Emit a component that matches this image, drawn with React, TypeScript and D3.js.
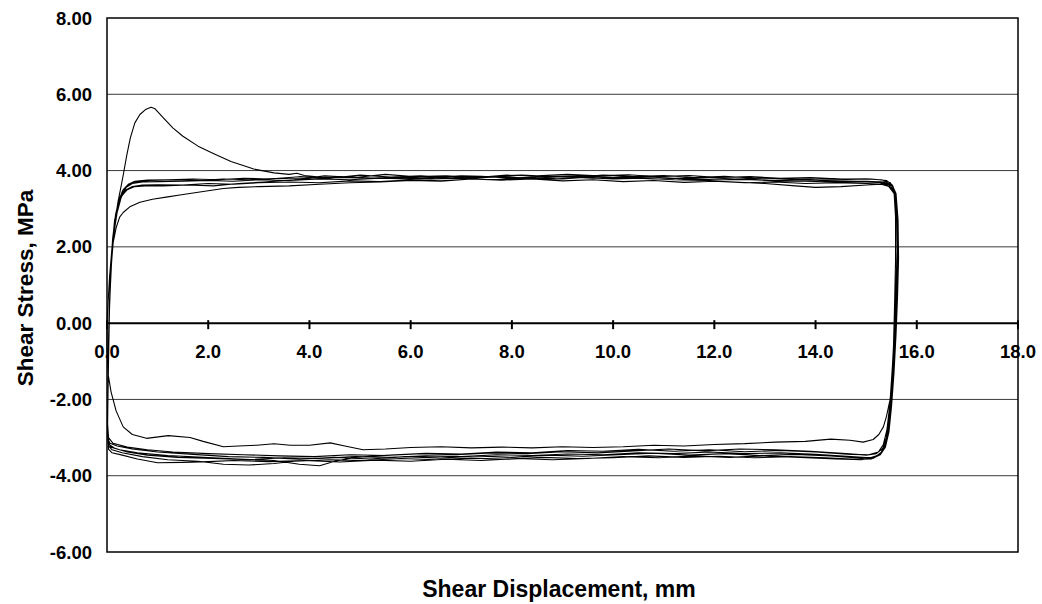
import React from 'react';
import * as d3 from 'd3';

// axis ticks
const xTicks = [0, 2, 4, 6, 8, 10, 12, 14, 16, 18];
const yTicks = [-6, -4, -2, 0, 2, 4, 6, 8];

// cycles of shear displacement (mm) vs shear stress (MPa)
const cycle1: [number, number][] = [
  [0, 0], [0.02, 0.5], [0.05, 1.2], [0.1, 2.0], [0.16, 2.7], [0.22, 3.2], [0.28, 3.6], [0.33, 3.95],
  [0.39, 4.4], [0.46, 4.85], [0.55, 5.25], [0.65, 5.47], [0.76, 5.6], [0.87, 5.66], [0.95, 5.62],
  [1.1, 5.4], [1.3, 5.12], [1.5, 4.9], [1.8, 4.64], [2.1, 4.45], [2.45, 4.24], [2.9, 4.04], [3.3, 3.94],
  [3.6, 3.9], [3.75, 3.93], [3.9, 3.87], [4.3, 3.82], [4.8, 3.84], [5.3, 3.8], [5.8, 3.82], [6.4, 3.78],
  [7.0, 3.8], [7.6, 3.76], [8.2, 3.8], [8.8, 3.78], [9.4, 3.82], [10.0, 3.78], [10.6, 3.8], [11.2, 3.76],
  [11.8, 3.74], [12.4, 3.7], [13.0, 3.66], [13.6, 3.6], [14.0, 3.56], [14.5, 3.58], [15.0, 3.62],
  [15.3, 3.64], [15.45, 3.58], [15.55, 3.4],
  [15.6, 3.0], [15.62, 2.0], [15.6, 1.0], [15.57, 0], [15.54, -1.0], [15.5, -2.0], [15.44, -2.7],
  [15.38, -3.15], [15.3, -3.4], [15.15, -3.52], [14.9, -3.54], [14.3, -3.48], [13.6, -3.44], [12.9, -3.47],
  [12.2, -3.42], [11.5, -3.46], [10.8, -3.41], [10.1, -3.45], [9.4, -3.49], [8.7, -3.46], [8.0, -3.52],
  [7.3, -3.48], [6.6, -3.54], [5.9, -3.5], [5.2, -3.56], [4.5, -3.52], [3.8, -3.57], [3.1, -3.52],
  [2.4, -3.5], [1.7, -3.44], [1.0, -3.38], [0.5, -3.3], [0.2, -3.22], [0.06, -3.15], [0.02, -3.05],
];

const cycle2: [number, number][] = [
  [0.01, -2.6], [0.02, -1.5], [0.03, -0.5], [0.05, 0.6], [0.08, 1.5], [0.12, 2.1], [0.18, 2.5],
  [0.25, 2.78], [0.32, 2.9], [0.45, 3.05], [0.65, 3.17], [0.9, 3.25], [1.2, 3.31], [1.44, 3.36],
  [1.9, 3.45], [2.3, 3.53], [2.6, 3.56], [3.0, 3.58], [3.6, 3.6], [4.2, 3.64], [4.8, 3.68], [5.4, 3.7],
  [6.0, 3.74], [6.6, 3.72], [7.2, 3.78], [7.8, 3.76], [8.4, 3.82], [9.0, 3.78], [9.6, 3.84], [10.2, 3.8],
  [10.8, 3.83], [11.4, 3.78], [12.0, 3.76], [12.6, 3.77], [13.2, 3.73], [13.8, 3.72], [14.4, 3.7],
  [15.0, 3.7], [15.35, 3.68], [15.5, 3.6], [15.58, 3.4],
  [15.62, 2.8], [15.63, 1.8], [15.61, 0.8], [15.58, -0.2], [15.55, -1.2], [15.5, -2.2], [15.45, -2.85],
  [15.38, -3.25], [15.28, -3.45], [15.1, -3.56], [14.8, -3.57], [14.2, -3.53], [13.5, -3.5], [12.8, -3.53],
  [12.1, -3.49], [11.4, -3.52], [10.7, -3.48], [10.0, -3.53], [9.3, -3.55], [8.6, -3.52], [7.9, -3.57],
  [7.2, -3.54], [6.5, -3.58], [5.8, -3.55], [5.1, -3.6], [4.4, -3.58], [3.7, -3.62], [3.3, -3.68],
  [2.8, -3.72], [2.3, -3.7], [1.8, -3.62], [1.2, -3.58], [0.7, -3.5], [0.3, -3.4], [0.1, -3.32], [0.03, -3.22],
];

const cycle3: [number, number][] = [
  [0.01, -2.8], [0.02, -1.6], [0.04, -0.2], [0.06, 1.0], [0.1, 2.0], [0.15, 2.7], [0.22, 3.1],
  [0.3, 3.35], [0.4, 3.5], [0.55, 3.58], [0.75, 3.6], [1.1, 3.6], [1.6, 3.62], [2.1, 3.6], [2.6, 3.66],
  [3.1, 3.7], [3.7, 3.76], [4.3, 3.86], [4.9, 3.82], [5.5, 3.9], [6.1, 3.84], [6.7, 3.86], [7.3, 3.82],
  [7.9, 3.88], [8.5, 3.86], [9.1, 3.9], [9.7, 3.86], [10.3, 3.89], [10.9, 3.84], [11.5, 3.87], [12.1, 3.82],
  [12.7, 3.84], [13.3, 3.8], [13.9, 3.82], [14.5, 3.78], [15.0, 3.78], [15.3, 3.76], [15.48, 3.68], [15.56, 3.45],
  [15.6, 2.9], [15.61, 1.9], [15.59, 0.9], [15.56, -0.1], [15.52, -1.1], [15.47, -2.1], [15.41, -2.8],
  [15.34, -3.18], [15.24, -3.38], [15.05, -3.45], [14.7, -3.44], [14.0, -3.38], [13.3, -3.34], [12.6, -3.37],
  [11.9, -3.32], [11.2, -3.36], [10.5, -3.31], [9.8, -3.36], [9.1, -3.34], [8.4, -3.4], [7.7, -3.38],
  [7.0, -3.43], [6.3, -3.41], [5.6, -3.46], [4.9, -3.52], [4.5, -3.62], [4.2, -3.74], [3.8, -3.7],
  [3.3, -3.6], [2.6, -3.56], [1.9, -3.52], [1.2, -3.47], [0.6, -3.4], [0.25, -3.32], [0.08, -3.25], [0.02, -3.12],
];

const cycle4: [number, number][] = [
  [0.01, -2.5], [0.02, -1.2], [0.04, 0.2], [0.07, 1.3], [0.11, 2.2], [0.17, 2.85], [0.24, 3.25],
  [0.32, 3.5], [0.42, 3.64], [0.55, 3.72], [0.8, 3.75], [1.2, 3.76], [1.7, 3.78], [2.2, 3.76], [2.7, 3.8],
  [3.2, 3.78], [3.8, 3.84], [4.4, 3.8], [5.0, 3.88], [5.6, 3.83], [6.2, 3.86], [6.8, 3.81], [7.4, 3.85],
  [8.0, 3.8], [8.6, 3.85], [9.2, 3.82], [9.8, 3.88], [10.4, 3.84], [11.0, 3.87], [11.6, 3.82], [12.2, 3.85],
  [12.8, 3.8], [13.4, 3.79], [14.0, 3.78], [14.6, 3.77], [15.1, 3.78], [15.4, 3.74], [15.52, 3.62], [15.58, 3.4],
  [15.62, 2.7], [15.62, 1.6], [15.6, 0.6], [15.57, -0.4], [15.53, -1.4], [15.48, -2.3], [15.42, -2.95],
  [15.33, -3.28], [15.2, -3.42], [15.0, -3.46], [14.6, -3.42], [13.9, -3.36], [13.2, -3.32], [12.5, -3.3],
  [11.8, -3.35], [11.1, -3.3], [10.4, -3.35], [9.7, -3.4], [9.0, -3.37], [8.3, -3.42], [7.6, -3.4],
  [6.9, -3.45], [6.2, -3.42], [5.5, -3.47], [4.8, -3.45], [4.1, -3.5], [3.4, -3.48], [2.7, -3.45],
  [2.0, -3.42], [1.3, -3.38], [0.8, -3.32], [0.4, -3.25], [0.12, -3.15], [0.03, -3.0],
];

const cycle5: [number, number][] = [
  [0.01, -2.7], [0.03, -1.0], [0.05, 0.4], [0.08, 1.4], [0.13, 2.3], [0.2, 2.9], [0.28, 3.3], [0.38, 3.5],
  [0.5, 3.58], [0.7, 3.62], [1.0, 3.63], [1.5, 3.62], [2.0, 3.66], [2.5, 3.64], [3.0, 3.68], [3.6, 3.7],
  [4.2, 3.68], [4.8, 3.73], [5.4, 3.71], [6.0, 3.76], [6.6, 3.73], [7.2, 3.78], [7.8, 3.75], [8.4, 3.78],
  [9.0, 3.73], [9.6, 3.76], [10.2, 3.71], [10.8, 3.74], [11.4, 3.69], [12.0, 3.72], [12.6, 3.68], [13.2, 3.7],
  [13.8, 3.66], [14.4, 3.68], [15.0, 3.66], [15.35, 3.64], [15.5, 3.55], [15.57, 3.35],
  [15.61, 2.6], [15.61, 1.5], [15.59, 0.5], [15.56, -0.5], [15.52, -1.5], [15.46, -2.4], [15.4, -3.0],
  [15.3, -3.38], [15.15, -3.54], [14.9, -3.58], [14.4, -3.56], [13.7, -3.52], [13.0, -3.48], [12.3, -3.52],
  [11.6, -3.48], [10.9, -3.53], [10.2, -3.5], [9.5, -3.55], [8.8, -3.58], [8.1, -3.55], [7.4, -3.6],
  [6.7, -3.57], [6.0, -3.62], [5.3, -3.59], [4.6, -3.64], [3.9, -3.6], [3.2, -3.63], [2.5, -3.6],
  [2.0, -3.63], [1.5, -3.65], [1.0, -3.66], [0.6, -3.56], [0.3, -3.46], [0.1, -3.4], [0.03, -3.3],
];

const cycle6: [number, number][] = [
  [0.01, -2.9], [0.02, -1.8], [0.03, -0.6], [0.05, 0.5], [0.09, 1.6], [0.14, 2.4], [0.2, 2.95], [0.28, 3.35],
  [0.38, 3.56], [0.5, 3.66], [0.7, 3.7], [1.0, 3.71], [1.5, 3.72], [2.0, 3.74], [2.5, 3.72], [3.0, 3.76],
  [3.6, 3.74], [4.2, 3.78], [4.8, 3.76], [5.4, 3.8], [6.0, 3.78], [6.6, 3.82], [7.2, 3.8], [7.8, 3.84],
  [8.4, 3.8], [9.0, 3.84], [9.6, 3.8], [10.2, 3.82], [10.8, 3.78], [11.4, 3.8], [12.0, 3.76], [12.6, 3.78],
  [13.2, 3.74], [13.8, 3.76], [14.4, 3.72], [15.0, 3.72], [15.38, 3.7], [15.52, 3.6], [15.59, 3.4],
  [15.63, 2.7], [15.64, 1.7], [15.62, 0.7], [15.59, -0.3], [15.55, -1.3], [15.5, -2.2], [15.44, -2.9],
  [15.36, -3.28], [15.25, -3.46], [15.08, -3.53], [14.7, -3.5], [14.0, -3.44], [13.3, -3.4], [12.6, -3.42],
  [11.9, -3.38], [11.2, -3.42], [10.5, -3.4], [9.8, -3.45], [9.1, -3.43], [8.4, -3.47], [7.7, -3.45],
  [7.0, -3.5], [6.3, -3.48], [5.6, -3.52], [4.9, -3.5], [4.2, -3.55], [3.5, -3.53], [2.8, -3.58],
  [2.1, -3.55], [1.4, -3.52], [0.8, -3.46], [0.4, -3.38], [0.15, -3.28], [0.04, -3.18],
];

const cycle7: [number, number][] = [
  [0.01, -2.6], [0.02, -1.4], [0.04, 0], [0.07, 1.2], [0.11, 2.1], [0.16, 2.75], [0.23, 3.2], [0.31, 3.48],
  [0.42, 3.62], [0.58, 3.7], [0.85, 3.74], [1.3, 3.76], [1.8, 3.74], [2.3, 3.78], [2.8, 3.76], [3.4, 3.8],
  [4.0, 3.78], [4.6, 3.82], [5.2, 3.8], [5.8, 3.84], [6.4, 3.82], [7.0, 3.86], [7.6, 3.84], [8.2, 3.88],
  [8.8, 3.84], [9.4, 3.86], [10.0, 3.82], [10.6, 3.84], [11.2, 3.8], [11.8, 3.82], [12.4, 3.78], [13.0, 3.8],
  [13.6, 3.76], [14.2, 3.74], [14.8, 3.72], [15.2, 3.7], [15.45, 3.62], [15.55, 3.45],
  [15.58, 2.8], [15.58, 1.6], [15.56, 0.4], [15.54, -0.6], [15.53, -1.41], [15.47, -2.02], [15.4, -2.45],
  [15.34, -2.72], [15.25, -2.92], [15.14, -3.05], [14.94, -3.12], [14.68, -3.07], [14.3, -3.04], [13.8, -3.1],
  [13.2, -3.12], [12.6, -3.16], [12.0, -3.18], [11.4, -3.22], [10.8, -3.2], [10.2, -3.24], [9.6, -3.26],
  [9.0, -3.24], [8.4, -3.27], [7.8, -3.25], [7.2, -3.27], [6.6, -3.24], [6.0, -3.26], [5.5, -3.3],
  [5.06, -3.32], [4.7, -3.22], [4.41, -3.14], [4.0, -3.2], [3.62, -3.2], [3.3, -3.16], [2.96, -3.2],
  [2.6, -3.22], [2.3, -3.24], [1.9, -3.1], [1.64, -3.0], [1.21, -2.95], [0.78, -3.02], [0.5, -2.92],
  [0.32, -2.72], [0.18, -2.3], [0.08, -1.8], [0.02, -1.32], [0, -0.6], [0, 0],
];

const cycles = [cycle1, cycle2, cycle3, cycle4, cycle5, cycle6, cycle7];

const W = 1042;
const H = 604;
const font = "'Liberation Sans', Arial, sans-serif";

export default function App() {
  const x = d3.scaleLinear().domain([0, 18]).range([107, 1018]);
  const y = d3.scaleLinear().domain([-6, 8]).range([552, 18]);

  const line = d3.line<[number, number]>()
    .x(d => x(d[0]))
    .y(d => y(d[1]));

  // one continuous trace through all cycles
  const trace = line(cycles.flat());

  return (
    <svg width={W} height={H} style={{ position: 'absolute', left: 0, top: 0, background: '#fff' }}>
      <rect x={0} y={0} width={W} height={H} fill="#fff" />
      {/* grid */}
      {yTicks.filter(t => t !== 0 && t !== 8 && t !== -6).map(t => (
        <line key={t} x1={x(0)} x2={x(18)} y1={y(t)} y2={y(t)} stroke="#3a3a3a" strokeWidth={1} />
      ))}
      {/* data */}
      <path d={trace ?? ''} fill="none" stroke="#000" strokeWidth={1.1} strokeLinejoin="round" />
      {/* frame */}
      <rect x={x(0)} y={y(8)} width={x(18) - x(0)} height={y(-6) - y(8)} fill="none" stroke="#000" strokeWidth={1.5} />
      {/* zero axis and ticks */}
      <line x1={x(0)} x2={x(18)} y1={y(0)} y2={y(0)} stroke="#000" strokeWidth={2} />
      {xTicks.map(t => (
        <line key={t} x1={x(t)} x2={x(t)} y1={y(0) - 3} y2={y(0) + 6} stroke="#000" strokeWidth={2} />
      ))}
      {/* tick labels */}
      {xTicks.map(t => (
        <text key={t} x={x(t)} y={358} textAnchor="middle" fontFamily={font} fontWeight="bold" fontSize={18.5} fill="#000">
          {t.toFixed(1)}
        </text>
      ))}
      {yTicks.map(t => (
        <text key={t} x={92} y={y(t) + 6.5} textAnchor="end" fontFamily={font} fontWeight="bold" fontSize={18.5} fill="#000">
          {t.toFixed(2)}
        </text>
      ))}
      {/* axis titles */}
      <text x={559} y={597} textAnchor="middle" fontFamily={font} fontWeight="bold" fontSize={23} fill="#000">
        Shear Displacement, mm
      </text>
      <text transform="translate(33,288) rotate(-90)" textAnchor="middle" fontFamily={font} fontWeight="bold" fontSize={22.5} fill="#000">
        Shear Stress, MPa
      </text>
    </svg>
  );
}
